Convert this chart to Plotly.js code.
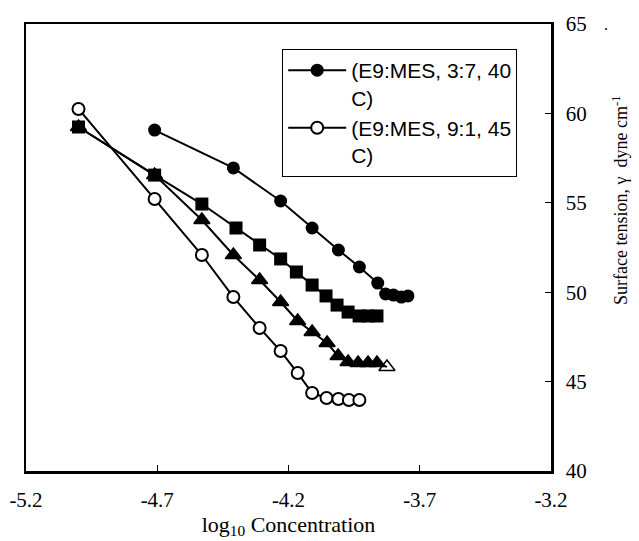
<!DOCTYPE html>
<html>
<head>
<meta charset="utf-8">
<script src="https://cdn.plot.ly/plotly-3.0.1.min.js"></script>
<style>html,body{margin:0;padding:0;background:#fff;}#chart{width:639px;height:541px;}</style>
</head>
<body>
<div id="chart"></div>
<script>
// Filled circles: (E9:MES, 3:7, 40 C)
const filledCircleX = [-4.71, -4.41, -4.23, -4.11, -4.01, -3.93, -3.86, -3.83, -3.80, -3.77, -3.745];
const filledCircleY = [59.07, 56.95, 55.10, 53.59, 52.36, 51.41, 50.51, 49.90, 49.84, 49.73, 49.79];
// Open circles: (E9:MES, 9:1, 45 C)
const openCircleX = [-5.00, -4.71, -4.53, -4.41, -4.31, -4.23, -4.165, -4.11, -4.055, -4.01, -3.97, -3.93];
const openCircleY = [60.25, 55.21, 52.08, 49.73, 48.00, 46.71, 45.48, 44.36, 44.08, 44.03, 43.97, 43.97];
// Filled squares
const squareX = [-5.00, -4.71, -4.53, -4.40, -4.31, -4.23, -4.17, -4.11, -4.057, -4.015, -3.973, -3.931, -3.897, -3.863];
const squareY = [59.24, 56.55, 54.93, 53.59, 52.64, 51.86, 51.13, 50.40, 49.79, 49.28, 48.89, 48.67, 48.67, 48.67];
// Filled triangles (last point hollow)
const triangleX = [-5.00, -4.71, -4.53, -4.41, -4.31, -4.23, -4.165, -4.11, -4.053, -4.011, -3.973, -3.935, -3.897, -3.863, -3.825];
const triangleY = [59.24, 56.55, 54.04, 52.08, 50.68, 49.45, 48.39, 47.77, 47.16, 46.43, 46.10, 46.04, 46.04, 46.04, 45.82];
const triangleSymbols = ['triangle-up','triangle-up','triangle-up','triangle-up','triangle-up','triangle-up','triangle-up','triangle-up','triangle-up','triangle-up','triangle-up','triangle-up','triangle-up','triangle-up','triangle-up-open'];

const legendNames = ['(E9:MES, 3:7, 40<br>C)', '(E9:MES, 9:1, 45<br>C)'];
const xTicks = [-5.2, -4.7, -4.2, -3.7, -3.2];
const yTicks = [40, 45, 50, 55, 60, 65];

const serif = 'Liberation Serif, Times New Roman, serif';
const lineStyle = {color: '#000', width: 2};
const traces = [
  {x: triangleX, y: triangleY, type: 'scatter', mode: 'lines+markers', showlegend: false,
   line: lineStyle, marker: {symbol: triangleSymbols, size: 14, color: '#000', line: {color: '#000', width: 1.5}}},
  {x: squareX, y: squareY, type: 'scatter', mode: 'lines+markers', showlegend: false,
   line: lineStyle, marker: {symbol: 'square', size: 13, color: '#000'}},
  {x: filledCircleX, y: filledCircleY, type: 'scatter', mode: 'lines+markers', name: legendNames[0],
   line: lineStyle, marker: {symbol: 'circle', size: 13, color: '#000'}},
  {x: openCircleX, y: openCircleY, type: 'scatter', mode: 'lines+markers', name: legendNames[1],
   line: lineStyle, marker: {symbol: 'circle', size: 12, color: '#fff', line: {color: '#000', width: 2}}}
];

const layout = {
  width: 639, height: 541,
  margin: {l: 26, r: 88, t: 24, b: 70},
  paper_bgcolor: '#fff', plot_bgcolor: '#fff',
  showlegend: true,
  legend: {x: 0.488, y: 0.944, xanchor: 'left', yanchor: 'top', bordercolor: '#000', borderwidth: 1,
           bgcolor: '#fff', font: {family: 'Liberation Sans, Arial, sans-serif', size: 21, color: '#000'},
           valign: 'top', tracegroupgap: 0, itemwidth: 58},
  xaxis: {range: [-5.2, -3.2], tickvals: xTicks, ticktext: xTicks.map(v => v.toFixed(1)),
          showgrid: false, zeroline: false, showline: true, mirror: true, linecolor: '#000', linewidth: 2.5,
          ticks: 'inside', ticklen: 6, tickcolor: '#000', ticklabelstandoff: 8,
          tickfont: {family: serif, size: 21, color: '#000'},
          title: {text: 'log<sub>10</sub> Concentration', standoff: 0,
                  font: {family: serif, size: 22, color: '#000'}}},
  yaxis: {range: [40, 65], tickvals: yTicks, side: 'right',
          showgrid: false, zeroline: false, showline: true, mirror: true, linecolor: '#000', linewidth: 2.5,
          ticks: 'inside', ticklen: 6, tickcolor: '#000', ticklabelstandoff: 8,
          tickfont: {family: serif, size: 21, color: '#000'}},
  annotations: [
    {text: 'Surface tension, γ  dyne cm<sup>-1</sup>', xref: 'paper', yref: 'paper',
     x: 1.131, y: 0.606, xanchor: 'center', yanchor: 'middle', textangle: -90, showarrow: false,
     font: {family: serif, size: 18, color: '#000'}},
    {text: '.', xref: 'paper', yref: 'paper', x: 1.105, y: 1.0, xanchor: 'center', yanchor: 'middle',
     showarrow: false, font: {family: serif, size: 16, color: '#000'}}
  ]
};

Plotly.newPlot('chart', traces, layout, {displayModeBar: false, staticPlot: true});
</script>
</body>
</html>
